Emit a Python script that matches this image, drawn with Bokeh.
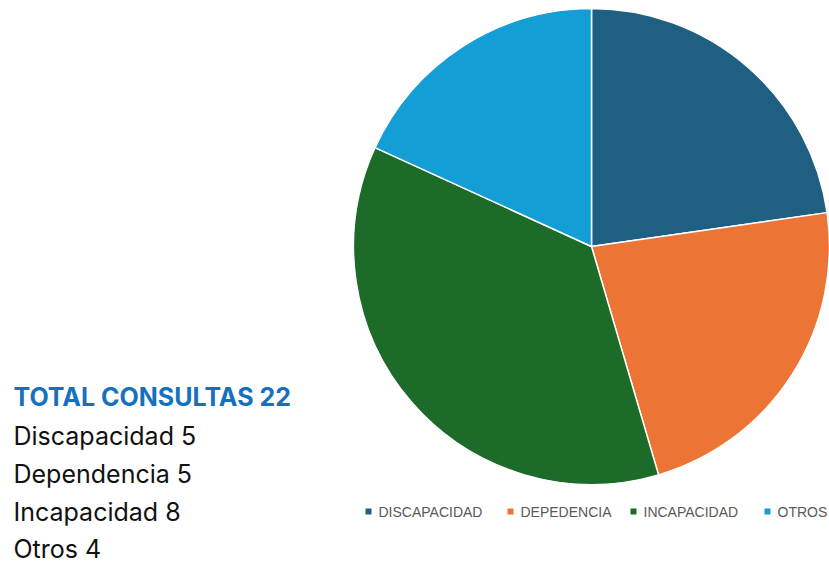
import numpy as np
from bokeh.plotting import figure
from bokeh.models import ColumnDataSource
from bokeh.core.properties import value
from bokeh.embed import file_html
from bokeh.resources import INLINE

categories = ["DISCAPACIDAD", "DEPEDENCIA", "INCAPACIDAD", "OTROS"]
counts = [5, 5, 8, 4]
colors = ["#1E5F82", "#EC7434", "#1C6B28", "#139ED6"]
summary_title = "TOTAL CONSULTAS 22"
summary_lines = ["Discapacidad 5", "Dependencia 5", "Incapacidad 8", "Otros 4"]

W, H = 829, 565
p = figure(width=W, height=H, output_backend="svg", toolbar_location=None,
           x_range=(0, W), y_range=(0, H), min_border=0)
p.axis.visible = False
p.grid.visible = False
p.outline_line_color = None
p.background_fill_color = "white"

def px(x):
    return x

def py(y):
    return H - y

vals = np.array(counts, dtype=float)
frac = vals / vals.sum()
cum = np.concatenate([[0], np.cumsum(frac)])
start = np.pi / 2 - cum[:-1] * 2 * np.pi
end = np.pi / 2 - cum[1:] * 2 * np.pi
src = ColumnDataSource(dict(start=start, end=end, color=colors, cat=categories))
p.wedge(x=px(591), y=py(246), radius=238, start_angle="start", end_angle="end",
        direction="clock", fill_color="color", line_color="white", line_width=1.5,
        source=src)

# legend
sq_x = [368, 510, 633, 767]
tx_x = [378, 520, 643, 777]
p.scatter(x=[px(v) for v in sq_x], y=[py(511)] * 4, marker="square", size=6,
          color=colors, line_color=None)
p.text(x=[px(v) for v in tx_x], y=[py(511)] * 4, text=categories,
       text_font=value("Liberation Sans"), text_font_size="14px",
       text_color="#595959", text_baseline="middle", text_align="left")

# summary text
p.text(x=[px(13)], y=[py(396)], text=[summary_title], text_font=value("Inter"),
       text_font_size="25px", text_font_style="bold", text_color="#1570BE",
       text_baseline="alphabetic")
bases = [435, 473, 511, 548]
p.text(x=[px(13)] * 4, y=[py(b) for b in bases], text=summary_lines,
       text_font=value("Inter"), text_font_size="25px", text_color="#111111",
       text_baseline="alphabetic")

open("out.html", "w").write(file_html(p, INLINE))
